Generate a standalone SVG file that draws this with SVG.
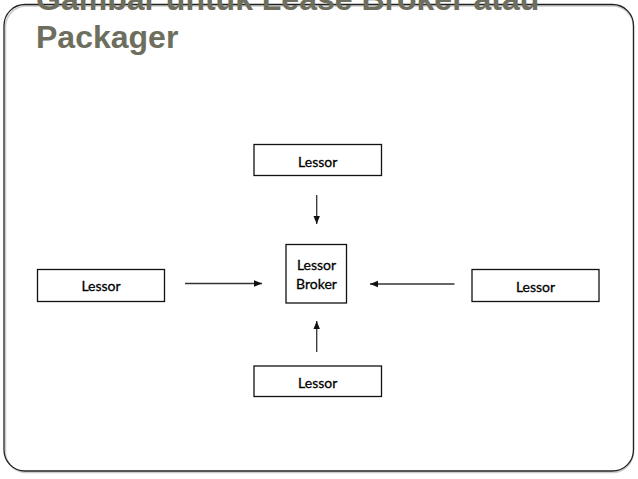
<svg xmlns="http://www.w3.org/2000/svg" width="638" height="479" viewBox="0 0 638 479">
<defs>
<style>
.box{fill:#fff;stroke:#111;stroke-width:1.3}
.lbl{font-family:Lato,"Liberation Sans",sans-serif;font-size:14px;fill:#000;stroke:#000;stroke-width:0.3;text-anchor:middle}
.title{font-family:"Liberation Sans",Arial,sans-serif;font-weight:bold;font-size:32px;fill:#6d6e5e}
.conn{stroke:#333;stroke-width:1.3;fill:none;marker-end:url(#ah)}
</style>
<marker id="ah" markerUnits="userSpaceOnUse" markerWidth="8" markerHeight="8" viewBox="0 0 8 8" refX="8" refY="4" orient="auto">
<path d="M0,0.8 L8,4 L0,7.2 Z" fill="#111"/>
</marker>
</defs>
<rect width="638" height="479" fill="#fff"/>
<rect x="5.5" y="6" width="628" height="466.5" rx="21" ry="21" fill="none" stroke="#ccc" stroke-width="1.5"/>
<rect x="4" y="4.5" width="629.5" height="466.5" rx="21" ry="21" fill="none" stroke="#222" stroke-width="1.3"/>
<g id="title">
<text class="title" x="36" y="10">Gambar untuk Lease Broker atau</text>
<text class="title" x="36" y="48">Packager</text>
</g>
<g id="connectors">
<line class="conn" x1="316.7" y1="195" x2="316.7" y2="224"/>
<line class="conn" x1="316.7" y1="352" x2="316.7" y2="321"/>
<line class="conn" x1="185" y1="283.5" x2="262" y2="283.5"/>
<line class="conn" x1="454.5" y1="284" x2="370" y2="284"/>
</g>
<g id="lessor-top">
<rect class="box" x="254" y="144.5" width="127.5" height="31"/>
<text class="lbl" x="317.7" y="167">Lessor</text>
</g>
<g id="lessor-left">
<rect class="box" x="37.5" y="269.5" width="127" height="32"/>
<text class="lbl" x="101" y="291">Lessor</text>
</g>
<g id="broker">
<rect class="box" x="286" y="244.5" width="60.5" height="58.5"/>
<text class="lbl" x="316.5" y="269.5">Lessor</text>
<text class="lbl" x="316.5" y="289">Broker</text>
</g>
<g id="lessor-right">
<rect class="box" x="472" y="269.5" width="127" height="32"/>
<text class="lbl" x="535.5" y="291.5">Lessor</text>
</g>
<g id="lessor-bottom">
<rect class="box" x="254" y="366" width="127.5" height="30.5"/>
<text class="lbl" x="317.7" y="388">Lessor</text>
</g>
</svg>
